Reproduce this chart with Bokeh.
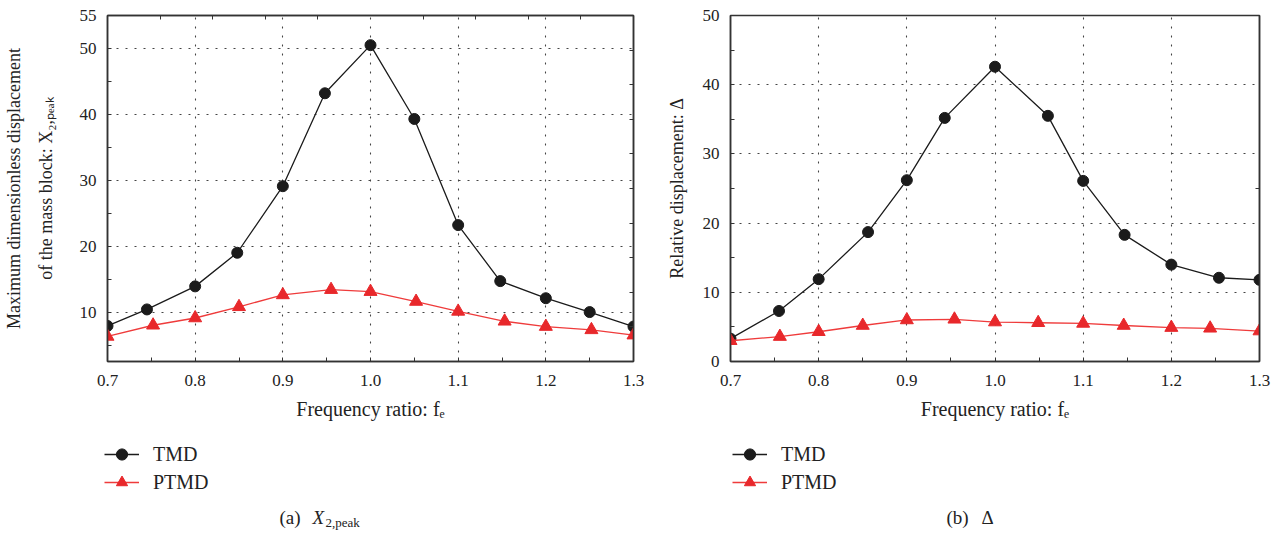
from bokeh.plotting import figure
from bokeh.layouts import row, column
from bokeh.models import (FixedTicker, LinearAxis, Range1d, Legend, LegendItem, Label,
                          PrintfTickFormatter)
from bokeh.embed import file_html
from bokeh.resources import INLINE

# ---- data ----
x_tmd_a = [0.70, 0.745, 0.80, 0.848, 0.90, 0.948, 1.00, 1.05, 1.10, 1.148, 1.20, 1.25, 1.30]
y_tmd_a = [7.9, 10.4, 13.9, 19.0, 29.1, 43.2, 50.5, 39.3, 23.2, 14.7, 12.1, 10.0, 7.8]
x_ptmd_a = [0.70, 0.752, 0.80, 0.85, 0.90, 0.955, 1.00, 1.052, 1.10, 1.153, 1.20, 1.252, 1.30]
y_ptmd_a = [6.3, 8.0, 9.1, 10.8, 12.6, 13.4, 13.1, 11.6, 10.1, 8.6, 7.8, 7.3, 6.5]

x_tmd_b = [0.70, 0.755, 0.80, 0.856, 0.90, 0.943, 1.00, 1.06, 1.10, 1.147, 1.20, 1.254, 1.30]
y_tmd_b = [3.3, 7.3, 11.9, 18.7, 26.2, 35.2, 42.6, 35.5, 26.1, 18.3, 14.0, 12.1, 11.8]
x_ptmd_b = [0.70, 0.756, 0.80, 0.85, 0.90, 0.954, 1.00, 1.049, 1.10, 1.146, 1.20, 1.244, 1.30]
y_ptmd_b = [3.0, 3.6, 4.3, 5.2, 6.0, 6.1, 5.7, 5.6, 5.5, 5.2, 4.9, 4.8, 4.4]

x_ticks = [0.7, 0.8, 0.9, 1.0, 1.1, 1.2, 1.3]
x_minor = [0.75, 0.85, 0.95, 1.05, 1.15, 1.25]
ya_ticks = [10, 20, 30, 40, 50, 55]
ya_minor = [5, 15, 25, 35, 45]
yb_ticks = [0, 10, 20, 30, 40, 50]
yb_minor = [5, 15, 25, 35, 45]

series_names = ["TMD", "PTMD"]

SERIF = "Liberation Serif"
BLACK = "#1b1b1b"
RED = "#e8282b"
RED_LINE = "#ef3b3b"
FRAME = "#333333"
TXT = "#222222"


def style_axis(ax, ticks, minor, show_labels=True):
    ax.ticker = FixedTicker(ticks=ticks, minor_ticks=minor)
    ax.major_tick_in = 4
    ax.major_tick_out = 0
    ax.minor_tick_in = 4
    ax.minor_tick_out = 0
    ax.major_tick_line_color = FRAME
    ax.minor_tick_line_color = FRAME
    ax.axis_line_color = FRAME
    ax.axis_line_width = 1.5
    ax.major_label_text_font = SERIF
    ax.major_label_text_color = TXT
    if show_labels:
        ax.major_label_text_font_size = "17px"
    else:
        ax.major_label_overrides = {t: "" for t in ticks}
        ax.major_label_text_font_size = "1px"
        ax.major_label_standoff = 0
        ax.axis_label_standoff = 0


def panel(width, border_left, border_right, yr, yt, ym, ylabel, ylabel_lh, ylabel_standoff,
          xt, yt1, xp, yp, top_ticks, right_ticks):
    p = figure(width=width, height=430, output_backend="svg", toolbar_location=None,
               x_range=Range1d(0.7, 1.3), y_range=Range1d(*yr),
               min_border_left=border_left, min_border_right=border_right,
               min_border_top=15, min_border_bottom=69)
    p.background_fill_color = None
    p.border_fill_color = "white"
    p.outline_line_color = FRAME
    p.outline_line_width = 1.5

    xa = p.xaxis[0]
    style_axis(xa, x_ticks, x_minor)
    xa.formatter = PrintfTickFormatter(format="%.1f")
    xa.major_label_standoff = 13
    xa.axis_label = "Frequency ratio: f\u2091"
    xa.axis_label_text_font = SERIF
    xa.axis_label_text_font_style = "normal"
    xa.axis_label_text_font_size = "20px"
    xa.axis_label_text_color = TXT
    xa.axis_label_standoff = 9

    ya = p.yaxis[0]
    style_axis(ya, yt, ym)
    ya.major_label_standoff = 11
    ya.axis_label = ylabel
    ya.axis_label_text_font = SERIF
    ya.axis_label_text_font_style = "normal"
    ya.axis_label_text_font_size = "18px"
    ya.axis_label_text_color = TXT
    ya.axis_label_text_line_height = ylabel_lh
    ya.axis_label_standoff = ylabel_standoff

    if top_ticks:
        ta = LinearAxis()
        style_axis(ta, top_ticks, [], show_labels=False)
        p.add_layout(ta, "above")
    if right_ticks:
        ra = LinearAxis()
        style_axis(ra, right_ticks, [], show_labels=False)
        p.add_layout(ra, "right")

    for g in p.grid:
        g.grid_line_color = "#444444"
        g.grid_line_dash = "2 7"
        g.grid_line_width = 1.1
    p.xgrid.ticker = FixedTicker(ticks=x_ticks)
    p.ygrid.ticker = FixedTicker(ticks=yt)

    p.line(xt, yt1, line_color=BLACK, line_width=1.3)
    p.scatter(xt, yt1, marker="circle", size=11, fill_color=BLACK, line_color=BLACK)
    p.line(xp, yp, line_color=RED_LINE, line_width=1.3)
    p.scatter(xp, yp, marker="triangle", size=13, fill_color=RED, line_color=RED)
    return p


top_a = [0.76, 0.82, 0.88, 0.94, 1.06, 1.12, 1.18, 1.24]
right_a = [7.75, 13.0, 18.25, 23.5, 28.75, 34.0, 39.25, 44.5, 49.75]

p1 = panel(648, 104, 15, (2.5, 55), ya_ticks, ya_minor,
           "Maximum dimensionless displacement\nof the mass block: X\u2082,\u209a\u2091\u2090\u2096",
           1.6, 21,
           x_tmd_a, y_tmd_a, x_ptmd_a, y_ptmd_a, top_a, right_a)

p2 = panel(633, 82, 22, (0, 50), yb_ticks, yb_minor,
           "Relative displacement: \u0394", 1.2, 13,
           x_tmd_b, y_tmd_b, x_ptmd_b, y_ptmd_b, None, [25])

# ---- bottom strip: legends and captions (page-pixel coordinates) ----
# The legend renderers reuse the series data; in this strip's ranges they fall
# outside the visible frame, so only their legend samples are drawn.
p3 = figure(width=1281, height=104, output_backend="svg", toolbar_location=None,
            x_range=Range1d(0, 1281), y_range=Range1d(534, 430),
            min_border=0, x_axis_type=None, y_axis_type=None)
p3.outline_line_color = None
p3.grid.visible = False
p3.background_fill_color = "white"
p3.border_fill_color = "white"

for leg_x, (xt, yt1, xp, yp) in ((104, (x_tmd_a, y_tmd_a, x_ptmd_a, y_ptmd_a)),
                                 (732, (x_tmd_b, y_tmd_b, x_ptmd_b, y_ptmd_b))):
    l1 = p3.line(xt, yt1, line_color=BLACK, line_width=1.3)
    s1 = p3.scatter(xt, yt1, marker="circle", fill_color=BLACK, line_color=BLACK)
    l2 = p3.line(xp, yp, line_color=RED_LINE, line_width=1.3)
    s2 = p3.scatter(xp, yp, marker="triangle", fill_color=RED, line_color=RED)
    leg = Legend(items=[LegendItem(label=series_names[0], renderers=[l1, s1]),
                        LegendItem(label=series_names[1], renderers=[l2, s2])],
                 location=(leg_x, 38), orientation="vertical",
                 background_fill_alpha=0, border_line_alpha=0,
                 glyph_width=35, glyph_height=28, label_height=28,
                 label_standoff=14, spacing=0, padding=0, margin=0,
                 label_text_font=SERIF, label_text_font_size="20px",
                 label_text_color=TXT)
    p3.add_layout(leg)

caption_parts = [
    ("(a)", 279, 517, "19px", "normal"),
    ("X", 312, 517, "19px", "italic"),
    ("2,peak", 325, 522, "13px", "normal"),
    ("(b)", 946, 517, "19px", "normal"),
    ("\u0394", 981, 517, "19px", "normal"),
]
for (txt, fx, fy, size, style) in caption_parts:
    p3.add_layout(Label(x=fx, y=fy, text=txt, text_font=SERIF, text_font_size=size,
                        text_font_style=style, text_baseline="middle", text_align="left",
                        text_color=TXT))

layout = column(row(p1, p2), p3)
open("out.html", "w").write(file_html(layout, INLINE))
